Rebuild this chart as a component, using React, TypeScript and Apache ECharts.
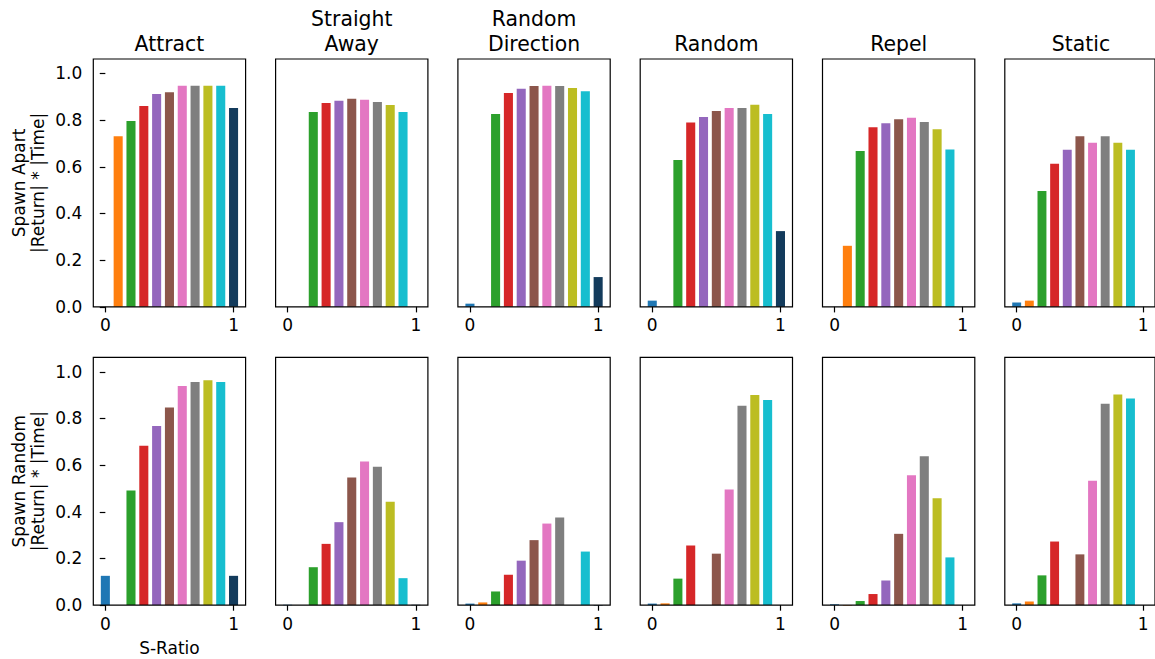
import React, { useEffect, useRef } from "react";
import * as echarts from "echarts";

const sRatio = [0, 0.1, 0.2, 0.3, 0.4, 0.5, 0.6, 0.7, 0.8, 0.9, 1.0];
const barColors = ["#1f77b4", "#ff7f0e", "#2ca02c", "#d62728", "#9467bd", "#8c564b", "#e377c2", "#7f7f7f", "#bcbd22", "#17becf", "#133b5c"];

const columnTitles = ["Attract", "Straight\nAway", "Random\nDirection", "Random", "Repel", "Static"];
const rowLabels = ["Spawn Apart\n|Return| * |Time|", "Spawn Random\n|Return| * |Time|"];
const xTicks = [0, 1];
const yTicks = [0, 0.2, 0.4, 0.6, 0.8, 1.0];

// Spawn Apart row
const apartAttract = [0, 0.733, 0.799, 0.863, 0.915, 0.922, 0.95, 0.95, 0.95, 0.95, 0.855];
const apartStraight = [0, 0, 0.837, 0.876, 0.886, 0.894, 0.89, 0.88, 0.867, 0.837, 0];
const apartRandomDir = [0.016, 0, 0.829, 0.919, 0.937, 0.949, 0.95, 0.949, 0.94, 0.926, 0.13];
const apartRandom = [0.029, 0, 0.632, 0.792, 0.816, 0.842, 0.855, 0.855, 0.869, 0.829, 0.327];
const apartRepel = [0, 0.264, 0.67, 0.772, 0.789, 0.806, 0.813, 0.795, 0.763, 0.677, 0];
const apartStatic = [0.021, 0.029, 0.499, 0.616, 0.676, 0.734, 0.706, 0.734, 0.706, 0.676, 0];

// Spawn Random row
const randomAttract = [0.128, 0, 0.494, 0.686, 0.77, 0.849, 0.942, 0.959, 0.966, 0.959, 0.128];
const randomStraight = [0.004, 0, 0.165, 0.265, 0.358, 0.549, 0.618, 0.595, 0.445, 0.118, 0.004];
const randomRandomDir = [0.009, 0.014, 0.061, 0.133, 0.193, 0.281, 0.352, 0.378, 0, 0.232, 0.002];
const randomRandom = [0.009, 0.01, 0.116, 0.258, 0, 0.223, 0.498, 0.857, 0.903, 0.882, 0];
const randomRepel = [0.006, 0.003, 0.02, 0.05, 0.108, 0.308, 0.559, 0.64, 0.461, 0.207, 0];
const randomStatic = [0.01, 0.018, 0.13, 0.275, 0, 0.22, 0.536, 0.866, 0.905, 0.888, 0];

const rows = [
  [apartAttract, apartStraight, apartRandomDir, apartRandom, apartRepel, apartStatic],
  [randomAttract, randomStraight, randomRandomDir, randomRandom, randomRepel, randomStatic],
];

const FONT = "DejaVu Sans";
const BAR_W = 0.08;

export default function App() {
  const ref = useRef<HTMLDivElement>(null);

  useEffect(() => {
    if (!ref.current) return;
    const chart = echarts.init(ref.current, undefined, { renderer: "svg" });

    const colLeft0 = 93.3;
    const colPitch = 182.3;
    const gridW = 152.3;
    const rowTops = [59, 357.3];
    const gridH = 247.8;

    const grids: any[] = [];
    const xAxes: any[] = [];
    const yAxes: any[] = [];
    const series: any[] = [];
    const graphics: any[] = [];

    rows.forEach((row, r) => {
      row.forEach((vals, c) => {
        const idx = grids.length;
        grids.push({
          left: colLeft0 + c * colPitch,
          top: rowTops[r],
          width: gridW,
          height: gridH,
          show: true,
          borderColor: "#000",
          borderWidth: 1.2,
          backgroundColor: "transparent",
          z: 10,
        });
        xAxes.push({
          type: "value",
          gridIndex: idx,
          min: -0.094,
          max: 1.094,
          position: "bottom",
          axisLine: { show: false },
          splitLine: { show: false },
          axisTick: {
            show: true,
            customValues: xTicks,
            length: 5.6,
            inside: false,
            lineStyle: { color: "#000", width: 1.2 },
          },
          axisLabel: {
            show: true,
            customValues: xTicks,
            margin: 10,
            color: "#000",
            fontFamily: FONT,
            fontSize: 17,
            formatter: (v: number) => String(Math.round(v)),
          },
        });
        const first = c === 0;
        yAxes.push({
          type: "value",
          gridIndex: idx,
          min: 0,
          max: 1.062,
          axisLine: { show: false },
          splitLine: { show: false },
          axisTick: {
            show: first,
            customValues: yTicks,
            length: 5.6,
            inside: false,
            lineStyle: { color: "#000", width: 1.2 },
          },
          axisLabel: {
            show: first,
            customValues: yTicks,
            margin: 11,
            color: "#000",
            fontFamily: FONT,
            fontSize: 17,
            formatter: (v: number) => v.toFixed(1),
          },
        });
        series.push({
          type: "custom",
          xAxisIndex: idx,
          yAxisIndex: idx,
          encode: { x: 0, y: 1 },
          data: sRatio.map((x, i) => [x, vals[i], i]),
          renderItem: (params: any, api: any) => {
            const x = api.value(0);
            const y = api.value(1);
            const ci = api.value(2);
            if (!y) return null;
            const p0 = api.coord([x - BAR_W / 2, y]);
            const p1 = api.coord([x + BAR_W / 2, 0]);
            const inset = 0.6;
            return {
              type: "rect",
              shape: {
                x: p0[0] + inset,
                y: p0[1] + inset,
                width: p1[0] - p0[0] - 2 * inset,
                height: Math.max(p1[1] - p0[1] - inset, 0.5),
              },
              style: { fill: barColors[ci] },
            };
          },
        });
      });
    });

    columnTitles.forEach((t, c) => {
      graphics.push({
        type: "text",
        x: colLeft0 + c * colPitch + gridW / 2,
        y: 56,
        style: {
          text: t,
          fontFamily: FONT,
          fontSize: 20.4,
          lineHeight: 24.5,
          fill: "#000",
          textAlign: "center",
          textVerticalAlign: "bottom",
        },
      });
    });

    rowLabels.forEach((t, r) => {
      graphics.push({
        type: "text",
        x: 28.5,
        y: rowTops[r] + gridH / 2,
        rotation: Math.PI / 2,
        style: {
          text: t,
          fontFamily: FONT,
          fontSize: 17,
          lineHeight: 19.8,
          fill: "#000",
          textAlign: "center",
          textVerticalAlign: "middle",
        },
      });
    });

    graphics.push({
      type: "text",
      x: colLeft0 + gridW / 2,
      y: 648,
      style: {
        text: "S-Ratio",
        fontFamily: FONT,
        fontSize: 17,
        fill: "#000",
        textAlign: "center",
        textVerticalAlign: "middle",
      },
    });

    chart.setOption({
      animation: false,
      backgroundColor: "#fff",
      grid: grids,
      xAxis: xAxes,
      yAxis: yAxes,
      series,
      graphic: graphics,
    });

    return () => chart.dispose();
  }, []);

  return (
    <div
      ref={ref}
      style={{ position: "absolute", left: 0, top: 0, width: 1155, height: 659 }}
    />
  );
}
